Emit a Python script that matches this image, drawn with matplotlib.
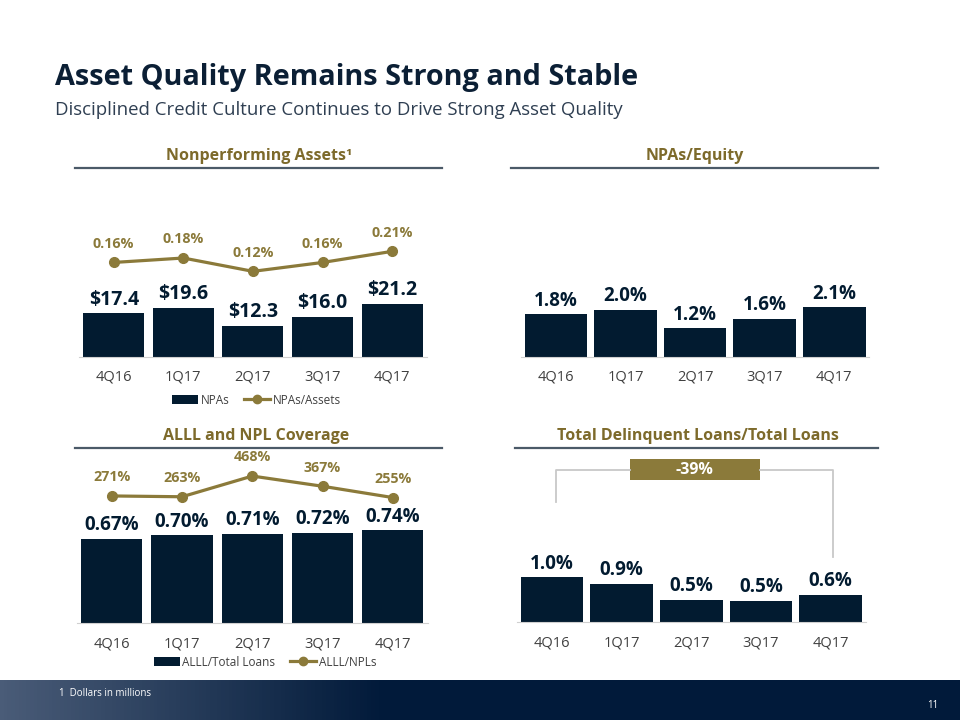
import matplotlib
matplotlib.use('Agg')
import numpy as np
import matplotlib.pyplot as plt
from matplotlib.lines import Line2D
from matplotlib.patches import Patch, Rectangle

plt.rcParams['font.family'] = ['Open Sans', 'DejaVu Sans']

W, H = 960, 720
NAVY = '#021b30'
GOLD = '#8b7a3a'
HEAD_GOLD = '#7d6a2b'
GRAY_TXT = '#404040'
RULE = '#4b5a68'

quarters = ['4Q16', '1Q17', '2Q17', '3Q17', '4Q17']
npa_dollars = [17.4, 19.6, 12.3, 16.0, 21.2]
npa_assets = [0.16, 0.18, 0.12, 0.16, 0.21]
npa_equity = [1.8, 2.0, 1.2, 1.6, 2.1]
alll_loans = [0.67, 0.70, 0.71, 0.72, 0.74]
alll_npls = [271, 263, 468, 367, 255]
delinq = [1.02, 0.87, 0.51, 0.49, 0.62]

fig = plt.figure(figsize=(9.6, 7.2), dpi=100)


def px_axes(l, t, r, b):
    return fig.add_axes([l / W, 1 - b / H, (r - l) / W, (b - t) / H])


def px(x, y):
    return x / W, 1 - y / H


def bar_panel(ax, vals, width, ymax, labels, fs):
    x = np.arange(len(vals))
    ax.bar(x, vals, width, color=NAVY, zorder=2)
    ax.set_xlim(-0.5, len(vals) - 0.5)
    ax.set_ylim(0, ymax)
    ax.set_xticks(x, quarters)
    ax.tick_params(axis='x', length=0, pad=9.3, labelsize=10.5, labelcolor=GRAY_TXT)
    ax.set_yticks([])
    for s in ['top', 'left', 'right']:
        ax.spines[s].set_visible(False)
    ax.spines['bottom'].set_color('#d0d0d0')
    ax.patch.set_alpha(0)
    for xi, v, lab in zip(x, vals, labels):
        ax.annotate(lab, (xi, v), xytext=(0, 9.8), textcoords='offset points',
                    ha='center', va='center', fontsize=fs, fontweight='bold', color=NAVY)


def line_panel(ax, vals, ylim, labels, fs):
    x = np.arange(len(vals))
    tw = ax.twinx()
    tw.plot(x, vals, color=GOLD, lw=2.3, marker='o', ms=7, zorder=3)
    tw.set_ylim(ylim)
    tw.axis('off')
    for xi, v, lab in zip(x, vals, labels):
        tw.annotate(lab, (xi, v), xytext=(0, 13.5), textcoords='offset points',
                    ha='center', va='center', fontsize=fs, fontweight='bold', color=GOLD)


def header(text, cx, cy, x0, x1, ly):
    fig.text(*px(cx, cy), text, ha='center', va='center', fontsize=11.5,
             fontweight='bold', color=HEAD_GOLD)
    fig.add_artist(Line2D([x0 / W, x1 / W], [1 - ly / H] * 2, color=RULE, lw=1.6))


def legend(labels, cx, cy):
    handles = [Patch(facecolor=NAVY, edgecolor='none'),
               Line2D([], [], color=GOLD, lw=2.3, marker='o', ms=6)]
    fig.legend(handles, labels, loc='center', bbox_to_anchor=px(cx, cy), ncol=2,
               frameon=False, fontsize=8.5, labelcolor=GRAY_TXT, handlelength=2.2,
               handletextpad=0.2, columnspacing=1.3)


# title
fig.text(*px(55, 78), 'Asset Quality Remains Strong and Stable', ha='left', va='center',
         fontsize=20.8, fontweight='bold', color='#0b1f35')
fig.text(*px(55, 110), 'Disciplined Credit Culture Continues to Drive Strong Asset Quality',
         ha='left', va='center', fontsize=13.4, color='#2f3f52')

# Nonperforming assets
header('Nonperforming Assets\u00b9', 259, 156, 75, 442, 168)
ax1 = px_axes(78.9, 200, 427, 356.7)
bar_panel(ax1, npa_dollars, 0.876, 62.9, ['$%.1f' % v for v in npa_dollars], 14)
line_panel(ax1, npa_assets, (-0.264, 0.441), ['%.2f%%' % v for v in npa_assets], 10.3)
legend(['NPAs', 'NPAs/Assets'], 256.5, 400)

# NPAs / Equity
header('NPAs/Equity', 695, 156, 511, 878, 168)
ax2 = px_axes(521.4, 200, 869, 356.7)
bar_panel(ax2, npa_equity, 0.9, 6.64, ['%.1f%%' % v for v in npa_equity], 13.5)

# ALLL and NPL coverage
header('ALLL and NPL Coverage', 256, 436, 75, 442, 448)
ax3 = px_axes(76.6, 460, 428, 623.3)
bar_panel(ax3, alll_loans, 0.87, 1.299, ['%.2f%%' % v for v in alll_loans], 13.5)
line_panel(ax3, alll_npls, (-990, 627), ['%d%%' % v for v in alll_npls], 10.3)
legend(['ALLL/Total Loans', 'ALLL/NPLs'], 265, 662)

# Delinquent loans
header('Total Delinquent Loans/Total Loans', 698, 436, 515, 878, 448)
ax4 = px_axes(517.2, 455, 865.5, 622.3)
bar_panel(ax4, delinq, 0.9, 3.80, ['%.1f%%' % v for v in delinq], 13.5)
chg = (delinq[-1] - delinq[0]) / delinq[0] * 100
n = len(delinq) - 1
ax4.plot([0.05, 0.05, 1.12], [2.74, 3.46, 3.46], color='#c8c8c8', lw=1.3, clip_on=False)
ax4.plot([2.98, n + 0.03, n + 0.03], [3.46, 3.46, 1.49], color='#c8c8c8', lw=1.3, clip_on=False)
ax4.add_patch(Rectangle((1.12, 3.23), 1.86, 0.47, facecolor=GOLD, edgecolor='none', clip_on=False))
ax4.text(2.05, 3.465, '%.0f%%' % chg, ha='center', va='center', fontsize=11.5,
         fontweight='bold', color='white')

# footer band
axf = px_axes(0, 680, 960, 720)
grad = np.ones((2, 256, 3))
c0 = np.array([0x4a, 0x5c, 0x78]) / 255
c1 = np.array([0x01, 0x1a, 0x3a]) / 255
t = np.clip(np.linspace(0, 1, 256) / 0.4, 0, 1)[:, None]
grad[:] = c0 * (1 - t) + c1 * t
axf.imshow(grad, aspect='auto', extent=(0, 1, 0, 1))
axf.set_xlim(0, 1)
axf.set_ylim(0, 1)
axf.axis('off')
fig.text(*px(59, 693), '1  Dollars in millions', ha='left', va='center', fontsize=7, color='white')
fig.text(*px(938, 706), '11', ha='right', va='center', fontsize=7, color='white')

fig.savefig('out.png', dpi=100)
